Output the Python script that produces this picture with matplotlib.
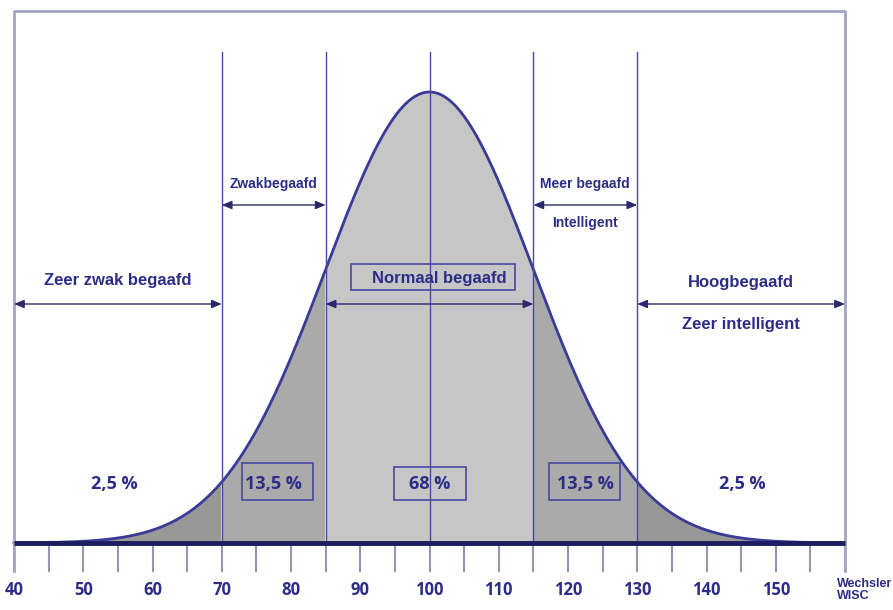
import numpy as np
import matplotlib
matplotlib.use("Agg")
import matplotlib.pyplot as plt
from matplotlib.patches import Rectangle

# IQ verdeling (Wechsler / WISC), gemiddelde 100, sd 15
MEAN = 100
SD = 15
grenzen = [70, 85, 100, 115, 130]
tick_waarden = [40, 50, 60, 70, 80, 90, 100, 110, 120, 130, 140, 150]
percentages = ["2,5 %", "13,5 %", "68 %", "13,5 %", "2,5 %"]
perc_x = [54.5, 77.5, 100, 122.5, 145.2]

NAVY = "#2d2d88"
LIJN = "#4848a0"
KADER = "#a4a4c4"
FONT = ["Liberation Sans", "DejaVu Sans"]
FONT2 = ["Open Sans", "DejaVu Sans"]

# pixel -> data hulp (x: 40 -> 14px, 10 eenheden = 69.25px ; y: basis 543px, top 92px)
PX_X = 6.925
def py(p):
    return (543 - p) / 451.0
def pxw(w):
    return w / PX_X

fig = plt.figure(figsize=(8.93, 6.10), dpi=100)
ax = fig.add_axes([0, 0, 1, 1])
ax.set_xlim(40 - 14 / PX_X, 40 + 879 / PX_X)
ax.set_ylim(py(610), py(0))
ax.axis("off")

x = np.linspace(40, 160, 1200)
y = np.exp(-0.5 * ((x - MEAN) / SD) ** 2)

# gekleurde vlakken onder de curve
ax.fill_between(x, 0, y, where=(x <= 70) | (x >= 130), color="#989898", lw=0)
ax.fill_between(x, 0, y, where=((x >= 70) & (x <= 85)) | ((x >= 115) & (x <= 130)),
                color="#aaaaaa", lw=0)
ax.fill_between(x, 0, y, where=(x >= 85) & (x <= 115), color="#c6c6c6", lw=0)
ax.plot(x, y, color="#3a3a98", lw=2)

# verticale lijnen
for g in grenzen:
    ax.plot([g, g], [0, py(52)], color=LIJN, lw=1)

# kader
ax.plot([40, 40, 160, 160], [py(571), py(11), py(11), py(571)], color=KADER, lw=2)

# ticks en basislijn
for t in range(40, 161, 5):
    ax.plot([t, t], [0, py(571)], color="#9494b4", lw=1.5, zorder=1)
ax.plot([40, 160], [0, 0], color="#1c1c5e", lw=3.5, solid_capstyle="butt")
for t in tick_waarden:
    ax.text(t, py(590), str(t), ha="center", va="center", fontsize=12,
            fontweight="bold", color=NAVY, family=FONT2)
ax.text(158.9, py(590), "Wechsler\nWISC", ha="left", va="center", fontsize=9,
        fontweight="bold", color=NAVY, linespacing=0.95, family=FONT)

def pijl(x0, x1, yy):
    ax.annotate("", xy=(x1, yy), xytext=(x0, yy),
                arrowprops=dict(arrowstyle="<|-|>,head_length=0.6,head_width=0.25",
                                color="#2a2a6a", lw=1, shrinkA=0, shrinkB=0))

def label(xx, yy, s, size=12):
    ax.text(xx, yy, s, ha="center", va="center", fontsize=size, fontweight="bold",
            color=NAVY, family=FONT)

def kader(x0, x1, y0, y1):
    ax.add_patch(Rectangle((40 + pxw(x0 - 14), py(y1)), pxw(x1 - x0), py(y0) - py(y1),
                           fill=False, ec=LIJN, lw=1.2, zorder=3))

pijl(70, 85, py(205))
label(77.5, py(184), "Zwakbegaafd", 10)
pijl(115, 130, py(205))
label(122.5, py(184), "Meer begaafd", 10)
label(122.5, py(223), "Intelligent", 10)
pijl(40, 70, py(304))
label(55, py(281), "Zeer zwak begaafd")
pijl(85, 115, py(304))
label(40 + pxw(439 - 14), py(279), "Normaal begaafd")
kader(351, 515, 264, 290)
pijl(130, 160, py(304))
label(145, py(282), "Hoogbegaafd")
label(145, py(325), "Zeer intelligent")

for px_, s in zip(perc_x, percentages):
    ax.text(px_, py(484), s, ha="center", va="center", fontsize=13, fontweight="bold",
            color=NAVY, family=FONT2)
kader(242, 313, 463, 500)
kader(394, 466, 467, 500)
kader(549, 620, 463, 500)

fig.savefig("out.png", dpi=100)
